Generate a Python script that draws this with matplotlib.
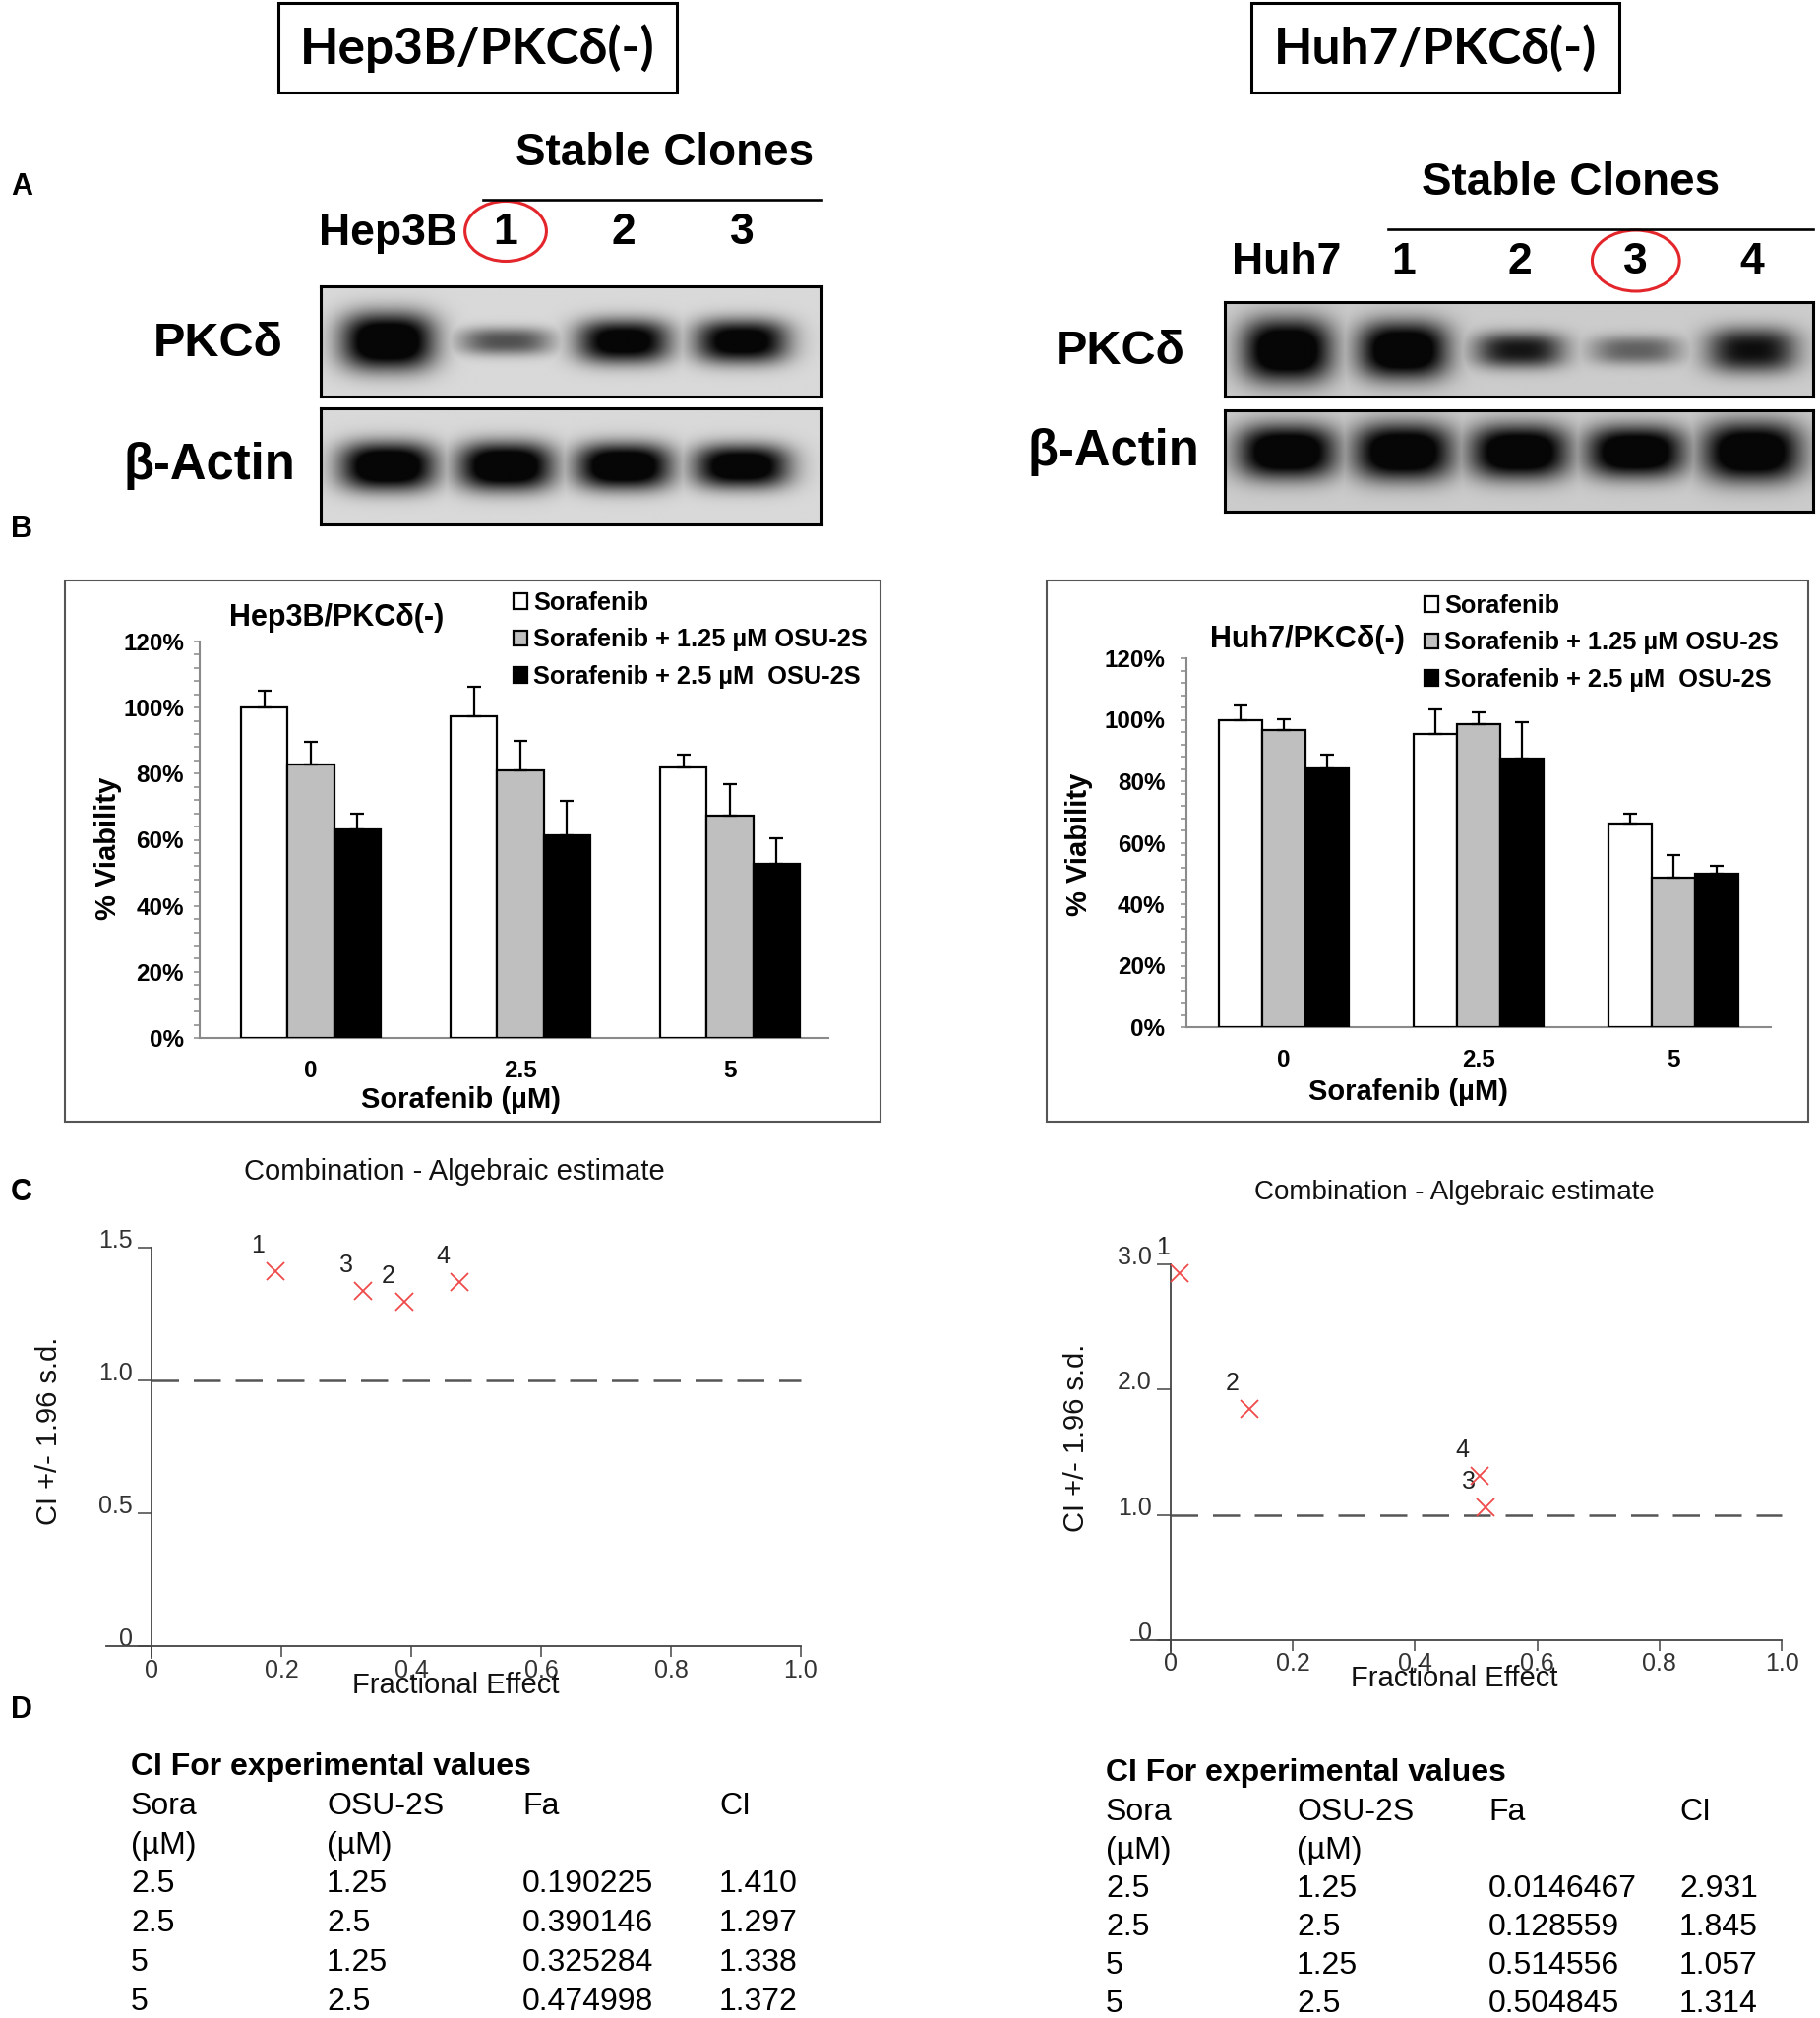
import numpy as np
import matplotlib
matplotlib.use("Agg")
import matplotlib.pyplot as plt
from matplotlib import font_manager
from matplotlib.patches import Rectangle, Ellipse
from matplotlib.transforms import blended_transform_factory
from matplotlib.ticker import MultipleLocator

# ---------------------------------------------------------------- data
panel_titles = ["Hep3B/PKCδ(-)", "Huh7/PKCδ(-)"]

# western blots (relative band intensity / thickness per lane)
hep_lanes = ["Hep3B", "1", "2", "3"]
hep_selected = 1
hep_pkc = [1.0, 0.5, 0.9, 0.9]
hep_pkc_thick = [1.05, 0.5, 0.8, 0.8]
hep_actin = [1.0, 1.0, 1.0, 0.95]
hep_actin_thick = [1.0, 1.0, 0.95, 0.9]

huh_lanes = ["Huh7", "1", "2", "3", "4"]
huh_selected = 3
huh_pkc = [1.0, 1.0, 0.72, 0.42, 0.75]
huh_pkc_thick = [1.0, 0.9, 0.55, 0.45, 0.7]
huh_actin = [1.0, 1.0, 1.0, 1.0, 1.0]
huh_actin_thick = [1.0, 1.05, 1.0, 0.95, 1.1]

# viability bar charts (%)
sorafenib_doses = ["0", "2.5", "5"]
series_labels = ["Sorafenib", "Sorafenib + 1.25 µM OSU-2S", "Sorafenib + 2.5 µM  OSU-2S"]

hep_sora = [100.0, 97.4, 81.8]
hep_sora_err = [5.1, 9.0, 3.9]
hep_low = [82.9, 81.1, 67.4]
hep_low_err = [6.6, 8.8, 9.5]
hep_high = [63.1, 61.3, 52.7]
hep_high_err = [4.9, 10.6, 7.6]

huh_sora = [100.0, 95.3, 66.4]
huh_sora_err = [4.7, 8.1, 3.2]
huh_low = [96.6, 98.6, 48.5]
huh_low_err = [3.7, 3.7, 7.5]
huh_high = [84.3, 87.5, 49.9]
huh_high_err = [4.5, 11.7, 2.5]

# combination index
hep_sora_um = [2.5, 2.5, 5, 5]
hep_osu_um = [1.25, 2.5, 1.25, 2.5]
hep_fa = [0.190225, 0.390146, 0.325284, 0.474998]
hep_ci = [1.410, 1.297, 1.338, 1.372]

huh_sora_um = [2.5, 2.5, 5, 5]
huh_osu_um = [1.25, 2.5, 1.25, 2.5]
huh_fa = [0.0146467, 0.128559, 0.514556, 0.504845]
huh_ci = [2.931, 1.845, 1.057, 1.314]

ci_xticks = [0, 0.2, 0.4, 0.6, 0.8, 1.0]
ci_xticklabels = ["0", "0.2", "0.4", "0.6", "0.8", "1.0"]
hep_ci_yticks = [0, 0.5, 1.0, 1.5]
hep_ci_yticklabels = ["0", "0.5", "1.0", "1.5"]
huh_ci_yticks = [0, 1.0, 2.0, 3.0]
huh_ci_yticklabels = ["0", "1.0", "2.0", "3.0"]
table_head1 = ["Sora", "OSU-2S", "Fa", "CI"]
table_head2 = ["(µM)", "(µM)", "", ""]

# ---------------------------------------------------------------- fonts
avail = {f.name for f in font_manager.fontManager.ttflist}
def pick(*names):
    for n in names:
        if n in avail:
            return n
    return "DejaVu Sans"
SANS = pick("Liberation Sans", "Arial")
TITLE_FAM = [n for n in ["Lato", "Roboto", "DejaVu Sans"] if n in avail] or ["DejaVu Sans"]
plt.rcParams["font.family"] = [SANS, "DejaVu Sans"]

W, H = 1850, 2051
fig = plt.figure(figsize=(W / 100, H / 100), dpi=100)
fig.patch.set_facecolor("white")

def fx(x):
    return x / W
def fy(y):
    return 1 - y / H
def add_ax(x0, y0, x1, y1):
    return fig.add_axes([x0 / W, 1 - y1 / H, (x1 - x0) / W, (y1 - y0) / H])
def ftext(x, y, s, **kw):
    return fig.text(fx(x), fy(y), s, **kw)

# ---------------------------------------------------------------- titles
for (x0, x1), s in zip([(283, 688), (1272, 1646)], panel_titles):
    fig.add_artist(Rectangle((fx(x0), fy(94)), (x1 - x0) / W, 91 / H,
                             transform=fig.transFigure, fill=False, ec="black", lw=2.2))
    ftext((x0 + x1) / 2, 49, s, ha="center", va="center", fontsize=37,
          fontweight="bold", family=TITLE_FAM)

for s, y in zip("ABCD", [190, 538, 1212, 1738]):
    ftext(11, y, s, ha="left", va="center", fontsize=22, fontweight="bold")

# ---------------------------------------------------------------- blots
def draw_blot(box, intens, thick, xlim, yc, wx, wy, bg):
    ax = add_ax(*box)
    nx, ny = 700, 180
    xs = np.linspace(xlim[0], xlim[1], nx)
    ys = np.linspace(0, 1, ny)
    X, Y = np.meshgrid(xs, ys)
    dark = np.zeros_like(X)
    for i, (a, t) in enumerate(zip(intens, thick)):
        r = np.abs((X - i) / wx) ** 3.0 + np.abs((Y - yc) / (wy * t)) ** 2.6
        dark = np.maximum(dark, a * np.exp(-r))
    img = bg * (1 - np.clip(dark * 1.25, 0, 0.97))
    ax.imshow(img, cmap="gray", vmin=0, vmax=1, extent=(xlim[0], xlim[1], 0, 1),
              origin="lower", aspect="auto", interpolation="bilinear")
    ax.set_xlim(xlim)
    ax.set_ylim(0, 1)
    ax.set_xticks([])
    ax.set_yticks([])
    for sp in ax.spines.values():
        sp.set_linewidth(2.2)
        sp.set_color("black")
    return ax

hep_xlim = (-0.567, 3.675)
huh_xlim = (-0.533, 4.524)
ax_hp = draw_blot((326, 291, 835, 403), hep_pkc, hep_pkc_thick, hep_xlim, 0.5, 0.40, 0.25, 0.85)
ax_ha = draw_blot((326, 415, 835, 533), hep_actin, hep_actin_thick, hep_xlim, 0.5, 0.41, 0.21, 0.85)
ax_up = draw_blot((1245, 307, 1843, 403), huh_pkc, huh_pkc_thick, huh_xlim, 0.49, 0.39, 0.34, 0.8)
ax_ua = draw_blot((1245, 417, 1843, 520), huh_actin, huh_actin_thick, huh_xlim, 0.59, 0.43, 0.27, 0.8)

def lane_header(ax, lanes, sel, xlim, y_lab, y_line, x_line0, sc_x, sc_y, rx, ry):
    tr = blended_transform_factory(ax.transData, fig.transFigure)
    for i, s in enumerate(lanes):
        ax.text(i, fy(y_lab), s, transform=tr, ha="center", va="center",
                fontsize=32, fontweight="bold", clip_on=False)
    ax.add_patch(Ellipse((sel, fy(y_lab - 2)), rx, 2 * ry / H, transform=tr, fill=False,
                         ec="#e3262b", lw=2.2, clip_on=False))
    ax.plot([x_line0, xlim[1]], [fy(y_line), fy(y_line)], transform=tr, color="black",
            lw=1.9, clip_on=False)
    ftext(sc_x, sc_y, "Stable Clones", ha="center", va="center", fontsize=33,
          fontweight="bold")

lane_header(ax_hp, hep_lanes, hep_selected, hep_xlim, 237, 203, 0.81, 676, 156, 0.69, 30.5)
lane_header(ax_up, huh_lanes, huh_selected, huh_xlim, 267, 233, 0.87, 1597, 186, 0.75, 31)

for (x, y), s, fs in zip([(288, 349), (300, 474), (1205, 357), (1219, 459)],
                         ["PKCδ", "β-Actin", "PKCδ", "β-Actin"], [35, 36.5, 35, 36.5]):
    ftext(x, y, s, ha="right", va="center", fontsize=fs, fontweight="bold")

# ---------------------------------------------------------------- bar charts
def bar_chart(box, frame, xlim, series, errs, title, title_xy, leg_xy, ylab_xy, xlab_xy, ypad):
    fx0, fy0, fx1, fy1 = frame
    fig.add_artist(Rectangle((fx(fx0), fy(fy1)), (fx1 - fx0) / W, (fy1 - fy0) / H,
                             transform=fig.transFigure, fill=False, ec="#555555", lw=1.5))
    ax = add_ax(*box)
    x = np.arange(len(sorafenib_doses)) + 0.5
    w = 0.222
    colors = ["white", "#bfbfbf", "black"]
    handles = []
    for k, (vals, err) in enumerate(zip(series, errs)):
        c = ax.bar(x + (k - 1) * w, vals, w, color=colors[k], edgecolor="black",
                   linewidth=1.6, label=series_labels[k],
                   yerr=[np.zeros(len(err)), err],
                   error_kw=dict(ecolor="black", elinewidth=1.6, capsize=5, capthick=1.6),
                   zorder=3)
        handles.append(c)
    ax.set_xlim(xlim)
    ax.set_ylim(0, 120)
    yt = list(range(0, 121, 20))
    ax.set_yticks(yt, [f"{v}%" for v in yt], fontsize=17.5, fontweight="bold")
    ax.yaxis.set_minor_locator(MultipleLocator(4))
    ax.set_xticks(x, sorafenib_doses, fontsize=17.5, fontweight="bold")
    ax.tick_params(axis="x", length=0, pad=16)
    ax.tick_params(axis="y", which="both", direction="out", length=4.5, width=1.1,
                   color="#888888", pad=ypad)
    for s in ["top", "right"]:
        ax.spines[s].set_visible(False)
    for s in ["left", "bottom"]:
        ax.spines[s].set_color("#8a8a8a")
        ax.spines[s].set_linewidth(1.5)
    ax.legend(handles=handles, loc="upper left", bbox_to_anchor=(fx(leg_xy[0]), fy(leg_xy[1])),
              bbox_transform=fig.transFigure, frameon=False, borderpad=0, borderaxespad=0,
              handlelength=0.55, handleheight=0.55, handletextpad=0.25, labelspacing=0.53,
              prop=dict(size=18.3, weight="bold"))
    ftext(*title_xy, title, ha="center", va="center", fontsize=22, fontweight="bold")
    ftext(*ylab_xy, "% Viability", ha="center", va="center", rotation=90, fontsize=21,
          fontweight="bold")
    ftext(*xlab_xy, "Sorafenib (µM)", ha="center", va="center", fontsize=21,
          fontweight="bold")
    return ax

bar_chart((203, 652, 842, 1055), (66, 590, 895, 1140), (-0.03, 2.97),
          [hep_sora, hep_low, hep_high], [hep_sora_err, hep_low_err, hep_high_err],
          panel_titles[0], (342, 628), (522, 601), (110, 862), (468, 1118), 7)
bar_chart((1206, 669, 1800, 1044), (1064, 590, 1838, 1140), (0, 3),
          [huh_sora, huh_low, huh_high], [huh_sora_err, huh_low_err, huh_high_err],
          panel_titles[1], (1329, 650), (1448, 604), (1097, 858), (1431, 1110), 11)

# ---------------------------------------------------------------- CI plots
def ci_plot(px0, px1, py0, pytop, ytop, xlim, ybot, fa, ci, yticks, yticklabels,
            title_xy, title_fs, ylab_xy, xlab_xy):
    sx = px1 - px0
    sy = (py0 - pytop) / ytop
    left = px0 + xlim[0] * sx
    right = px0 + xlim[1] * sx
    bottom = py0 - ybot * sy
    ax = add_ax(left, pytop, right, bottom)
    ax.set_xlim(xlim)
    ax.set_ylim(ybot, ytop)
    ax.patch.set_alpha(0)
    for s in ["top", "right"]:
        ax.spines[s].set_visible(False)
    ax.spines["left"].set_position(("data", 0))
    ax.spines["bottom"].set_position(("data", 0))
    ax.spines["bottom"].set_bounds(xlim[0] + 0.01, 1.0)
    ax.spines["left"].set_bounds(ybot, ytop)
    for s in ["left", "bottom"]:
        ax.spines[s].set_color("#444444")
        ax.spines[s].set_linewidth(1.3)
    ax.set_xticks(ci_xticks, ci_xticklabels, fontsize=18, color="#333333")
    ax.set_yticks(yticks, yticklabels, fontsize=18, color="#333333",
                  verticalalignment="baseline")
    ax.tick_params(axis="x", direction="out", length=8, width=1.1, color="#444444", pad=1)
    ax.tick_params(axis="y", direction="out", length=10, width=1.1, color="#444444", pad=4)
    ax.hlines(1.0, 0, 1.0, colors="#555555", linestyles=(0, (11, 6)), lw=1.8)
    ax.plot(fa, ci, ls="none", marker="x", color="#ef4b4b", ms=13, mew=1.3, clip_on=False,
            zorder=4)
    for i, (a, b) in enumerate(zip(fa, ci)):
        ax.annotate(str(i + 1), (a, b), xytext=(-17, 26), textcoords="offset pixels",
                    ha="center", va="center", fontsize=18, color="#222222")
    ftext(*title_xy, "Combination - Algebraic estimate", ha="center", va="center",
          fontsize=title_fs, color="#111111")
    ftext(*ylab_xy, "CI +/- 1.96 s.d.", ha="center", va="center", rotation=90,
          fontsize=21, color="#111111")
    ftext(*xlab_xy, "Fractional Effect", ha="center", va="center", fontsize=21,
          color="#111111")
    return ax

ci_plot(154, 814, 1673, 1268, 1.5, (-0.08, 1.03), -0.045, hep_fa, hep_ci,
        hep_ci_yticks, hep_ci_yticklabels, (462, 1191), 21, (50, 1454), (463, 1713))
ci_plot(1190, 1811, 1667, 1285, 3.0, (-0.075, 1.03), -0.1, huh_fa, huh_ci,
        huh_ci_yticks, huh_ci_yticklabels, (1478, 1212), 20, (1094, 1461), (1478, 1706))

# ---------------------------------------------------------------- tables
def ci_table(cols, rows, sora, osu, fa, ci):
    ftext(cols[0], rows[0], "CI For experimental values", ha="left", va="center",
          fontsize=23, fontweight="bold")
    for c, s in zip(cols, table_head1):
        ftext(c, rows[1], s, ha="left", va="center", fontsize=23)
    for c, s in zip(cols, table_head2):
        if s:
            ftext(c, rows[2], s, ha="left", va="center", fontsize=23)
    for r, (a, b, f, v) in enumerate(zip(sora, osu, fa, ci)):
        vals = [f"{a:g}", f"{b:g}", f"{f:.6g}", f"{v:.3f}"]
        for c, s in zip(cols, vals):
            ftext(c, rows[3 + r], s, ha="left", va="center", fontsize=23)

ci_table([133, 332, 531, 731], [1796, 1836, 1876, 1915, 1955, 1995, 2035],
         hep_sora_um, hep_osu_um, hep_fa, hep_ci)
ci_table([1124, 1318, 1513, 1707], [1802, 1842, 1881, 1920, 1959, 1998, 2037],
         huh_sora_um, huh_osu_um, huh_fa, huh_ci)

fig.savefig("out.png", dpi=100, facecolor="white")
